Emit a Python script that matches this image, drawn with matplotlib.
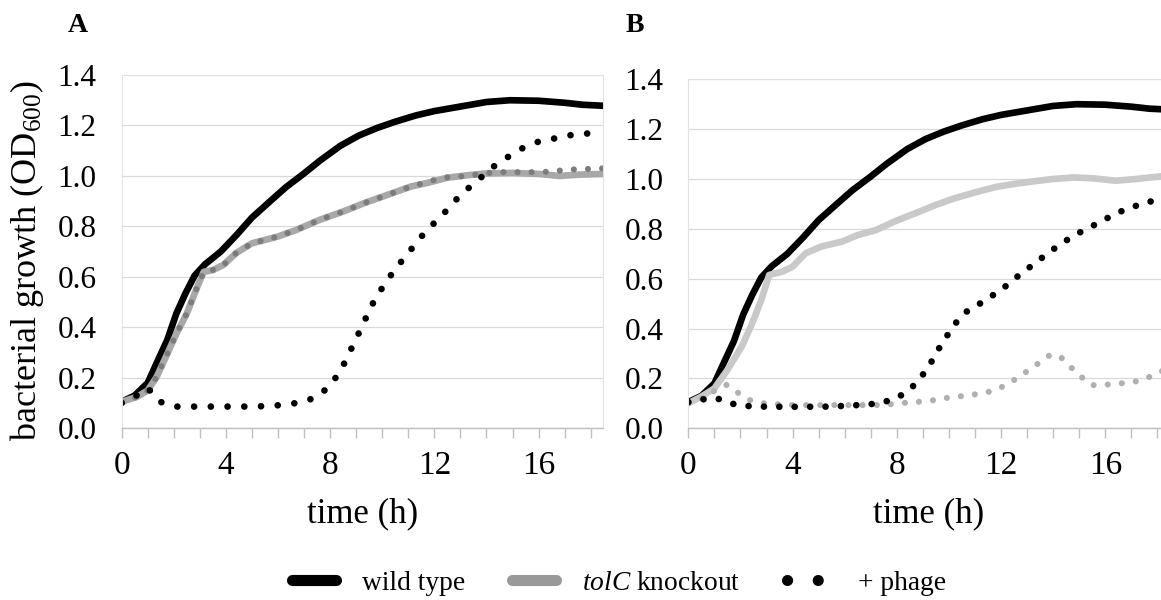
import matplotlib
matplotlib.use("Agg")
import matplotlib.pyplot as plt
from matplotlib.lines import Line2D
from matplotlib.ticker import FormatStrFormatter, MultipleLocator

plt.rcParams['font.family'] = 'Liberation Serif'
plt.rcParams['mathtext.fontset'] = 'custom'
plt.rcParams['mathtext.rm'] = 'Liberation Serif'
plt.rcParams['mathtext.it'] = 'Liberation Serif:italic'

# ---- wild type (same culture in both panels) ----
t_wt = [0, 0.5, 1.0, 1.35, 1.75, 2.1, 2.45, 2.8, 3.2, 3.8, 4.4, 5.0, 5.7, 6.3,
        7.0, 7.6, 8.4, 9.1, 9.8, 10.5, 11.3, 12.0, 13.0, 14.0, 14.9, 16.0,
        17.0, 17.7, 18.5]
od_wt = [0.105, 0.13, 0.18, 0.26, 0.35, 0.455, 0.535, 0.605, 0.65, 0.70, 0.765,
         0.835, 0.90, 0.955, 1.01, 1.06, 1.12, 1.16, 1.19, 1.215, 1.24, 1.257,
         1.275, 1.293, 1.30, 1.298, 1.29, 1.282, 1.278]

# ---- A: tolC knockout ----
t_tolc_a = [0, 0.6, 1.0, 1.35, 1.75, 2.1, 2.5, 2.9, 3.15, 3.5, 3.9, 4.4, 5.0,
            6.0, 6.7, 7.6, 8.5, 9.3, 10.2, 11.1, 11.8, 12.5, 13.3, 14.0, 15.0,
            16.0, 16.8, 17.5, 18.5]
od_tolc_a = [0.105, 0.125, 0.15, 0.205, 0.295, 0.375, 0.455, 0.56, 0.62, 0.627,
             0.647, 0.695, 0.733, 0.76, 0.786, 0.826, 0.859, 0.892, 0.925, 0.958,
             0.974, 0.993, 1.003, 1.01, 1.012, 1.008, 1.0, 1.005, 1.008]

# ---- A: tolC knockout + phage ----
t_tolc_ph_a = [0, 0.6, 1.0, 1.35, 1.75, 2.1, 2.5, 2.9, 3.15, 3.5, 3.9, 4.4, 5.0,
               6.0, 6.7, 7.6, 8.5, 9.3, 10.2, 11.1, 11.7, 12.2, 12.7, 13.3, 13.9,
               14.5, 15.3, 16.0, 16.5, 17.1, 17.7, 18.5]
od_tolc_ph_a = [0.105, 0.125, 0.15, 0.205, 0.295, 0.375, 0.455, 0.56, 0.62,
                0.627, 0.647, 0.695, 0.733, 0.76, 0.786, 0.826, 0.859, 0.892,
                0.925, 0.958, 0.975, 0.99, 0.997, 1.0, 1.01, 1.015, 1.015, 1.015,
                1.017, 1.025, 1.027, 1.03]

# ---- A: wild type + phage ----
t_wt_ph_a = [0, 0.5, 1.0, 1.45, 2.0, 3.0, 4.0, 5.0, 5.8, 6.45, 7.05, 7.6, 8.05,
             8.4, 8.7, 8.95, 9.25, 9.5, 9.8, 10.15, 10.5, 10.9, 11.3, 11.7, 12.15,
             12.6, 13.0, 13.5, 13.95, 14.4, 14.9, 15.45, 16.0, 16.5, 17.1, 17.7,
             18.5]
od_wt_ph_a = [0.10, 0.125, 0.16, 0.106, 0.086, 0.086, 0.086, 0.086, 0.089, 0.096,
              0.106, 0.132, 0.176, 0.229, 0.289, 0.347, 0.407, 0.469, 0.524,
              0.581, 0.63, 0.683, 0.733, 0.785, 0.828, 0.878, 0.925, 0.968, 1.008,
              1.048, 1.08, 1.114, 1.136, 1.146, 1.16, 1.167, 1.172]

# ---- B: tolC knockout ----
t_tolc_b = [0, 0.5, 1.0, 1.5, 2.05, 2.45, 2.8, 3.1, 3.6, 4.0, 4.5, 5.1, 5.9, 6.5,
            7.2, 7.9, 8.7, 9.5, 10.2, 11.0, 11.8, 12.5, 13.2, 14.0, 14.8, 15.5,
            16.4, 17.2, 18.5]
od_tolc_b = [0.1, 0.127, 0.16, 0.234, 0.328, 0.421, 0.515, 0.615, 0.628, 0.648,
             0.702, 0.729, 0.749, 0.775, 0.795, 0.829, 0.862, 0.896, 0.922, 0.946,
             0.968, 0.98, 0.99, 1.0, 1.006, 1.003, 0.993, 1.0, 1.015]

# ---- B: wild type + phage ----
t_wt_ph_b = [0, 0.55, 1.1, 1.6, 2.15, 2.7, 4.0, 5.5, 6.15, 6.7, 7.3, 7.8, 8.28,
             8.7, 9.05, 9.36, 9.65, 9.96, 10.27, 10.63, 11.1, 11.57, 12.02, 12.47,
             12.91, 13.36, 13.81, 14.26, 14.71, 15.15, 15.67, 16.15, 16.63, 17.14,
             17.65, 18.1, 18.5]
od_wt_ph_b = [0.105, 0.116, 0.12, 0.10, 0.09, 0.087, 0.086, 0.087, 0.091, 0.094,
              0.10, 0.114, 0.138, 0.176, 0.222, 0.272, 0.326, 0.376, 0.423, 0.465,
              0.494, 0.526, 0.556, 0.596, 0.631, 0.667, 0.703, 0.737, 0.767, 0.793,
              0.82, 0.847, 0.871, 0.891, 0.907, 0.92, 0.928]

# ---- B: tolC knockout + phage ----
t_tolc_ph_b = [0, 0.5, 1.0, 1.47, 1.94, 2.4, 2.92, 4.0, 5.5, 7.0, 7.54, 8.08,
               8.64, 9.22, 9.77, 10.33, 10.87, 11.43, 11.93, 12.41, 12.88, 13.34,
               13.78, 14.02, 14.26, 14.64, 15.07, 15.48, 16.05, 16.59, 17.14,
               17.65, 18.1, 18.5]
od_tolc_ph_b = [0.1, 0.12, 0.15, 0.174, 0.14, 0.111, 0.1, 0.093, 0.093, 0.093,
                0.094, 0.1, 0.105, 0.109, 0.12, 0.127, 0.134, 0.143, 0.16, 0.187,
                0.22, 0.253, 0.289, 0.296, 0.289, 0.249, 0.207, 0.173, 0.175, 0.18,
                0.187, 0.204, 0.227, 0.24]

x_ticks = [0, 4, 8, 12, 16]
y_ticks = [0.0, 0.2, 0.4, 0.6, 0.8, 1.0, 1.2, 1.4]

LW = 4.8
dots = lambda gap: (0, (0.01, gap))

fig = plt.figure(figsize=(11.61, 6), dpi=100)
ax_a = fig.add_axes([0.1048, 0.2862, 0.4143, 0.5888])
ax_b = fig.add_axes([0.5929, 0.2862, 0.4143, 0.5817])

solid = dict(solid_capstyle='round', solid_joinstyle='round')

# panel A
ax_a.plot(t_wt, od_wt, color='black', lw=LW, **solid)
ax_a.plot(t_tolc_a, od_tolc_a, color='#a8a8a8', lw=LW, **solid)
ax_a.plot(t_tolc_ph_a, od_tolc_ph_a, color='#7c7c7c', lw=4.4,
          linestyle=dots(2.3), dash_capstyle='round')
ax_a.plot(t_wt_ph_a, od_wt_ph_a, color='black', lw=LW,
          linestyle=dots(2.5), dash_capstyle='round')

# panel B
ax_b.plot(t_wt, od_wt, color='black', lw=LW, **solid)
ax_b.plot(t_tolc_b, od_tolc_b, color='#c9c9c9', lw=LW, **solid)
ax_b.plot(t_tolc_ph_b, od_tolc_ph_b, color='#b0b0b0', lw=4.4,
          linestyle=dots(2.3), dash_capstyle='round')
ax_b.plot(t_wt_ph_b, od_wt_ph_b, color='black', lw=LW,
          linestyle=dots(2.3), dash_capstyle='round')

for ax in (ax_a, ax_b):
    ax.set_xlim(0, 18.46)
    ax.set_ylim(0, 1.4)
    ax.set_xticks(x_ticks)
    ax.xaxis.set_minor_locator(MultipleLocator(1))
    ax.set_yticks(y_ticks)
    ax.yaxis.set_major_formatter(FormatStrFormatter('%.1f'))
    ax.grid(axis='y', color='#d9d9d9', lw=0.9)
    ax.set_axisbelow(True)
    for side in ('left', 'right', 'top'):
        ax.spines[side].set_color('#e2e2e2')
        ax.spines[side].set_linewidth(0.8)
    ax.spines['bottom'].set_color('#bfbfbf')
    ax.spines['bottom'].set_linewidth(1.0)
    ax.tick_params(axis='x', which='both', direction='out', length=7,
                   width=1.0, color='#bfbfbf', labelsize=24, pad=9)
    ax.tick_params(axis='y', length=0, labelsize=22.5, pad=18)
    ax.set_xlabel('time (h)', fontsize=25, labelpad=12)

ax_a.set_ylabel('bacterial growth (OD$_{600}$)', fontsize=26)
ax_a.yaxis.set_label_coords(-0.157, 0.474)

fig.text(78 / 1161, 1 - 25 / 600, 'A', fontsize=20, fontweight='bold',
         ha='center', va='center')
fig.text(635 / 1161, 1 - 25 / 600, 'B', fontsize=20, fontweight='bold',
         ha='center', va='center')

handles = [
    Line2D([], [], color='black', lw=8, solid_capstyle='round'),
    Line2D([], [], color='#999999', lw=8, solid_capstyle='round'),
    Line2D([], [], color='black', lw=8, linestyle=dots(2.75),
           dash_capstyle='round'),
]
labels = ['wild type', r'$\mathit{tolC}$ knockout', '+ phage']
fig.legend(handles, labels, loc='center', bbox_to_anchor=(0.533, 0.028),
           ncol=3, frameon=False, fontsize=19.8, handlelength=1.6,
           handletextpad=0.95, columnspacing=1.7, borderpad=0,
           borderaxespad=0)

fig.savefig('out.png', dpi=100)
